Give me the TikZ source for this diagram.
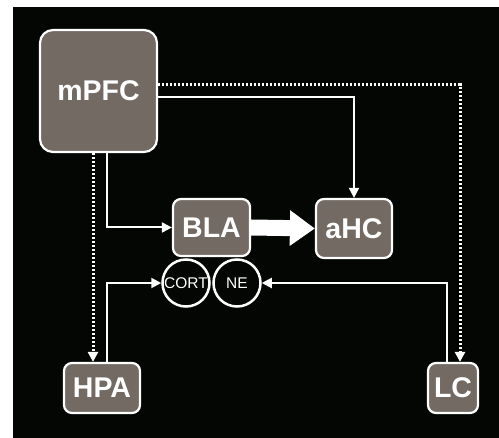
\documentclass[tikz,border=0pt]{standalone}
\usepackage{fontspec}
\setmainfont{Liberation Sans}
\usetikzlibrary{arrows.meta}
\definecolor{boxgray}{RGB}{114,106,99}
\definecolor{bgblack}{RGB}{3,6,3}

\begin{document}
\begin{tikzpicture}[x=1pt,y=-1pt,
    region/.style={draw=white, fill=boxgray, line width=2.2pt, rounded corners=8pt,
      text=white, inner sep=0pt, font=\bfseries\fontsize{28.5}{30}\selectfont},
    hormone/.style={circle, draw=white, fill=bgblack, line width=2.5pt, minimum size=47pt,
      inner sep=0pt, text=white, font=\fontsize{15.5}{16}\selectfont},
    link/.style={draw=white, line width=2pt, -{Triangle[length=10pt,width=10pt]}},
    dotlink/.style={link, dash pattern=on 2pt off 2pt, line width=3pt}]
  \useasboundingbox (0,0) rectangle (499,438);
  \fill[white] (0,0) rectangle (499,438);
  \fill[bgblack] (13,7) rectangle (499,438);

  % regions
  \node[region, minimum width=117pt, minimum height=122pt, rounded corners=13pt] (mPFC) at (98.5,91) {mPFC};
  \node[region, minimum width=77pt, minimum height=57pt] (BLA) at (211.5,227.5) {BLA};
  \node[region, minimum width=76pt, minimum height=59pt] (aHC) at (354,228.5) {aHC};
  \node[region, minimum width=76pt, minimum height=50pt] (HPA) at (102,388) {HPA};
  \node[region, minimum width=50pt, minimum height=50pt] (LC) at (453,388) {LC};

  % hormones
  \node[hormone] (CORT) at (186,283) {CORT};
  \node[hormone] (NE) at (237,283) {NE};

  % projections
  \draw[dotlink] ([yshift=6pt]mPFC.east) -| ([xshift=7pt]LC.north);
  \draw[link] ([yshift=-6pt]mPFC.east) -| (aHC.north);
  \draw[link] ([xshift=8.5pt]mPFC.south) |- (BLA.west);
  \draw[dotlink] ([xshift=-5.5pt]mPFC.south) -- ([xshift=-5.5pt]mPFC.south |- HPA.north);
  \draw[link] ([xshift=5pt]HPA.north) |- (CORT.west);
  \draw[link] ([xshift=-6pt]LC.north) |- (NE.east);
  \draw[white, line width=16pt, -{Triangle[length=25pt,width=34pt]}] (BLA.east) -- (aHC.west);
\end{tikzpicture}
\end{document}
